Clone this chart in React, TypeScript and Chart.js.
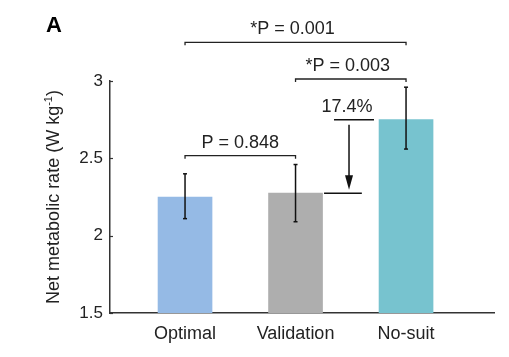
import React, { useEffect, useRef } from "react";
import { Chart, registerables } from "chart.js";

Chart.register(...registerables);

// ---- data ----
const categories = ["Optimal", "Validation", "No-suit"];
const means = [2.25, 2.275, 2.75];
const errLower = [2.11, 2.09, 2.56];
const errUpper = [2.4, 2.46, 2.96];
const barColors = ["#95bae5", "#aeaeae", "#77c3cf"];
const yTickValues = [1.5, 2, 2.5, 3];

// significance comparisons (category indices, bracket level in y units, label)
const compFrom = [0, 1, 0];
const compTo = [2, 2, 1];
const compLevel = [3.25, 3.013, 2.517];
const compLabel = ["*P = 0.001", "*P = 0.003", "P = 0.848"];

const diffLabel = "17.4%";
const panelLabel = "A";
const yTitleMain = "Net metabolic rate (W kg";
const yTitleSup = "-1";
const yTitleEnd = ")";

const FONT = '"Liberation Sans", Arial, Helvetica, sans-serif';
const TEXT_COLOR = "#222";

const annotPlugin = {
  id: "annot",
  afterDraw(chart: any) {
    const { ctx, scales, chartArea } = chart;
    const xs = scales.x;
    const ys = scales.y;
    ctx.save();

    const line = (x1: number, y1: number, x2: number, y2: number) => {
      ctx.beginPath();
      ctx.moveTo(x1, y1);
      ctx.lineTo(x2, y2);
      ctx.stroke();
    };

    // inward tick marks on y axis
    ctx.strokeStyle = "#333";
    ctx.lineWidth = 1.2;
    yTickValues.forEach((v) => {
      const py = Math.round(ys.getPixelForValue(v)) + 0.5;
      line(chartArea.left, py, chartArea.left + 3, py);
    });

    // error bars
    ctx.strokeStyle = "#111";
    ctx.lineWidth = 1.5;
    means.forEach((_m, i) => {
      const px = xs.getPixelForValue(i + 1);
      const top = ys.getPixelForValue(errUpper[i]);
      const bot = ys.getPixelForValue(errLower[i]);
      line(px, top, px, bot);
      line(px - 2, top, px + 2, top);
      line(px - 2, bot, px + 2, bot);
    });

    // comparison brackets
    ctx.strokeStyle = "#222";
    ctx.lineWidth = 1.3;
    ctx.fillStyle = TEXT_COLOR;
    ctx.font = `18px ${FONT}`;
    ctx.textAlign = "center";
    ctx.textBaseline = "alphabetic";
    compLabel.forEach((lab, k) => {
      const x1 = xs.getPixelForValue(compFrom[k] + 1);
      const x2 = xs.getPixelForValue(compTo[k] + 1);
      const py = ys.getPixelForValue(compLevel[k]);
      ctx.beginPath();
      ctx.moveTo(x1, py + 3);
      ctx.lineTo(x1, py);
      ctx.lineTo(x2, py);
      ctx.lineTo(x2, py + 3);
      ctx.stroke();
      const shift = lab.startsWith("*") ? -3 : 0;
      ctx.fillText(lab, (x1 + x2) / 2 + shift, py - 8);
    });

    // difference arrow between Validation and No-suit
    const yHi = ys.getPixelForValue(means[2]);
    const yLo = ys.getPixelForValue(means[1]);
    const xArrow = xs.getPixelForValue(2.484);
    ctx.lineWidth = 1.5;
    ctx.strokeStyle = "#111";
    line(xs.getPixelForValue(2.348), yHi, xs.getPixelForValue(2.71), yHi);
    line(xs.getPixelForValue(2.258), yLo, xs.getPixelForValue(2.6), yLo);
    line(xArrow, yHi + 5, xArrow, yLo - 16);
    ctx.fillStyle = "#111";
    ctx.beginPath();
    ctx.moveTo(xArrow - 4, yLo - 18);
    ctx.lineTo(xArrow + 4, yLo - 18);
    ctx.lineTo(xArrow, yLo - 3.5);
    ctx.closePath();
    ctx.fill();
    ctx.fillStyle = TEXT_COLOR;
    ctx.font = `18px ${FONT}`;
    ctx.fillText(diffLabel, xArrow - 2, yHi - 8);

    // panel label
    ctx.font = `bold 22px ${FONT}`;
    ctx.textAlign = "left";
    ctx.fillStyle = "#000";
    ctx.fillText(panelLabel, 46, 32);

    // y axis title (rotated)
    const mainFont = `18px ${FONT}`;
    const supFont = `11px ${FONT}`;
    ctx.font = mainFont;
    const w1 = ctx.measureText(yTitleMain).width;
    const w3 = ctx.measureText(yTitleEnd).width;
    ctx.font = supFont;
    const w2 = ctx.measureText(yTitleSup).width;
    const total = w1 + w2 + w3;
    const cy = (chartArea.top + chartArea.bottom) / 2;
    ctx.translate(59, cy);
    ctx.rotate(-Math.PI / 2);
    ctx.fillStyle = TEXT_COLOR;
    ctx.textAlign = "left";
    ctx.textBaseline = "alphabetic";
    let cx = -total / 2;
    ctx.font = mainFont;
    ctx.fillText(yTitleMain, cx, 0);
    cx += w1;
    ctx.font = supFont;
    ctx.fillText(yTitleSup, cx, -7);
    cx += w2;
    ctx.font = mainFont;
    ctx.fillText(yTitleEnd, cx, 0);

    ctx.restore();
  },
};

export default function App() {
  const ref = useRef<HTMLCanvasElement | null>(null);

  useEffect(() => {
    if (!ref.current) return;
    const chart = new Chart(ref.current, {
      type: "bar",
      data: {
        datasets: [
          {
            data: means.map((v, i) => ({ x: i + 1, y: v })),
            backgroundColor: barColors,
            borderWidth: 0,
            barThickness: 54,
          },
        ],
      },
      options: {
        responsive: false,
        animation: false,
        devicePixelRatio: 1,
        layout: { padding: { left: 0, top: 81, right: 15, bottom: 0 } },
        plugins: {
          legend: { display: false },
          tooltip: { enabled: false },
        },
        scales: {
          x: {
            type: "linear",
            min: 0.321,
            max: 3.796,
            offset: false,
            bounds: "data",
            grid: { display: false, drawTicks: false, offset: false },
            border: { display: true, color: "#333", width: 1.5 },
            afterBuildTicks: (scale: any) => {
              scale.ticks = categories.map((_c, i) => ({ value: i + 1 }));
            },
            afterFit: (scale: any) => {
              scale.height = 44;
            },
            ticks: {
              autoSkip: false,
              maxRotation: 0,
              padding: 10,
              color: TEXT_COLOR,
              font: { family: FONT, size: 18 },
              callback: (v: any) => categories[Math.round(Number(v)) - 1] ?? "",
            },
          },
          y: {
            type: "linear",
            min: 1.5,
            max: 3,
            grid: { display: false, drawTicks: false },
            border: { display: true, color: "#333", width: 1.5 },
            afterBuildTicks: (scale: any) => {
              scale.ticks = yTickValues.map((v) => ({ value: v }));
            },
            afterFit: (scale: any) => {
              scale.width = 110;
            },
            ticks: {
              padding: 7,
              color: TEXT_COLOR,
              font: { family: FONT, size: 17 },
              callback: (v: any) => String(v),
            },
          },
        },
      },
      plugins: [annotPlugin],
    });
    return () => chart.destroy();
  }, []);

  return (
    <div style={{ position: "fixed", left: 0, top: 0, width: 509, height: 357, background: "#fff" }}>
      <canvas ref={ref} width={509} height={357} />
    </div>
  );
}
